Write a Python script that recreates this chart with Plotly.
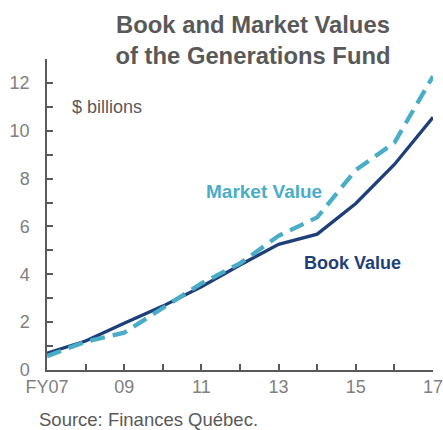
import plotly.graph_objects as go

years = [7, 8, 9, 10, 11, 12, 13, 14, 15, 16, 17]
book_value = [0.70, 1.21, 1.95, 2.67, 3.48, 4.39, 5.25, 5.68, 6.96, 8.59, 10.56]
market_value = [0.58, 1.18, 1.56, 2.58, 3.62, 4.46, 5.61, 6.38, 8.36, 9.50, 12.28]
x_tick_vals = [7, 8, 9, 10, 11, 12, 13, 14, 15, 16, 17]
x_tick_text = ["FY07", "", "09", "", "11", "", "13", "", "15", "", "17"]
y_tick_vals = list(range(0, 13))
y_tick_text = [str(v) if v % 2 == 0 else "" for v in y_tick_vals]

BOOK = "#1F3F7A"
MARKET = "#4AADC8"
GRAY = "#808080"
DARK = "#595959"
FONT = "Liberation Sans, Arial, sans-serif"

W, H = 443, 430
L, R, T, B = 47, 10, 59, 60
PW, PH = W - L - R, H - T - B


def px(x):
    return (x - L) / PW


def py(y):
    return (H - B - y) / PH


fig = go.Figure()
fig.add_trace(go.Scatter(x=years, y=book_value, mode="lines",
                         line=dict(color=BOOK, width=3.3), name="Book Value"))
fig.add_trace(go.Scatter(x=years, y=market_value, mode="lines",
                         line=dict(color=MARKET, width=4.3, dash="15px,8px"), name="Market Value"))

fig.update_layout(
    width=W, height=H,
    margin=dict(l=L, r=R, t=T, b=B, autoexpand=False),
    paper_bgcolor="white", plot_bgcolor="white",
    showlegend=False,
    font=dict(family=FONT, color=GRAY),
    title=dict(text="<b>Book and Market Values<br>of the Generations Fund</b>",
               x=253 / W, xanchor="center", y=1 - 33 / H, yanchor="middle",
               font=dict(size=23.8, color=DARK, family=FONT)),
    xaxis=dict(range=[7, 17], tickvals=x_tick_vals, ticktext=x_tick_text,
               ticks="inside", ticklen=6, tickcolor=DARK, tickwidth=1.5,
               showline=True, linecolor=DARK, linewidth=1.5, showgrid=False,
               zeroline=False, tickfont=dict(size=18, color=GRAY),
               ticklabeloverflow="allow", automargin=False),
    yaxis=dict(range=[0, 13], tickvals=y_tick_vals, ticktext=y_tick_text,
               ticks="inside", ticklen=6, tickcolor=DARK, tickwidth=1.5,
               showline=True, linecolor=DARK, linewidth=1.5, showgrid=False,
               zeroline=False, tickfont=dict(size=18, color=GRAY),
               ticklabelstandoff=12, automargin=False),
)

fig.add_annotation(text="$ billions", x=px(70), y=py(107), xref="paper", yref="paper",
                   xanchor="left", yanchor="middle", showarrow=False,
                   font=dict(size=18, color=DARK, family=FONT))
fig.add_annotation(text="<b>Market Value</b>", x=px(264), y=py(192), xref="paper", yref="paper",
                   xanchor="center", yanchor="middle", showarrow=False,
                   font=dict(size=19, color=MARKET, family=FONT))
fig.add_annotation(text="<b>Book Value</b>", x=px(352), y=py(263), xref="paper", yref="paper",
                   xanchor="center", yanchor="middle", showarrow=False,
                   font=dict(size=18, color=BOOK, family=FONT))
fig.add_annotation(text="Source: Finances Québec.", x=px(37), y=py(419), xref="paper", yref="paper",
                   xanchor="left", yanchor="middle", showarrow=False,
                   font=dict(size=18.5, color=DARK, family=FONT))

fig.write_html("out.html", config={"displayModeBar": False},
               post_script="document.body.style.margin='0';")
